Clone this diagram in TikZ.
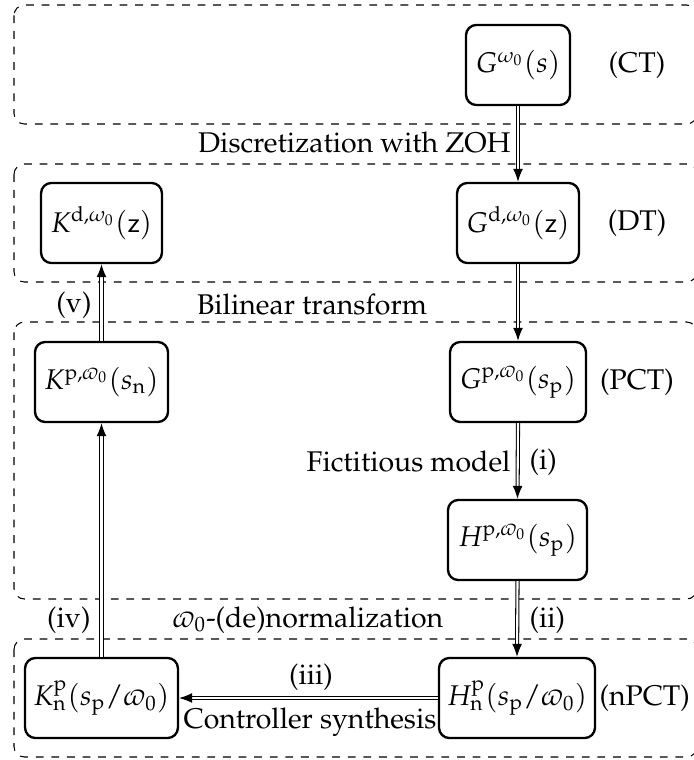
\documentclass[tikz,border=0pt]{standalone}
\usepackage[T1]{fontenc}
\usepackage{mathpazo}
\usetikzlibrary{arrows.meta}
\tikzset{
  region/.style={draw, dashed, line width=0.4pt, rounded corners=4pt},
  blk/.style={draw, line width=0.9pt, rounded corners=4pt, minimum height=30.8pt, inner sep=0pt, minimum width=#1},
  conn/.style={double, double distance=0.8pt, line width=0.4pt, -{Latex[length=5pt,width=3.8pt]}},
  lbl/.style={inner sep=0pt},
  every node/.style={font=\fontsize{10.95}{13.6}\selectfont}
}
\begin{document}
\begin{tikzpicture}[x=0.3846pt,y=-0.3846pt]
\useasboundingbox (0,0) rectangle (693,760);
% regions
\draw[region] (14,5) rectangle (697,124);
\draw[region] (14,164) rectangle (697,282);
\draw[region] (14,322) rectangle (697,599);
\draw[region] (14,639) rectangle (697,757);
% blocks
\node[blk=40pt] (G) at (518,65) {$G^{\omega_0}(s)$};
\node[blk=46.9pt] (Gd) at (518,223) {$G^{\mathrm{d},\omega_0}(\mathsf{z})$};
\node[blk=46.5pt] (Kd) at (101.5,223) {$K^{\mathrm{d},\omega_0}(\mathsf{z})$};
\node[blk=51.2pt] (Kp) at (101.5,382) {$K^{\mathrm{p},\varpi_0}(s_{\mathrm{n}})$};
\node[blk=52.3pt] (Gp) at (518,382) {$G^{\mathrm{p},\varpi_0}(s_{\mathrm{p}})$};
\node[blk=53.5pt] (Hp) at (517.5,540) {$H^{\mathrm{p},\varpi_0}(s_{\mathrm{p}})$};
\node[blk=58.8pt] (Kn) at (101.5,698) {$K^{\mathrm{p}}_{\mathrm{n}}(s_{\mathrm{p}}/\varpi_0)$};
\node[blk=60pt] (Hn) at (517,698) {$H^{\mathrm{p}}_{\mathrm{n}}(s_{\mathrm{p}}/\varpi_0)$};
% domain labels
\node[lbl] (ct) at (637,65) {(CT)};
\node[lbl] (dt) at (637,223) {(DT)};
\node[lbl] (pct) at (637,382) {(PCT)};
\node[lbl, anchor=west] (npct) at (599,698) {(nPCT)};
% connectors
\draw[conn] (G.south) -- (Gd.north);
\draw[conn] (Gd.south) -- (Gp.north);
\draw[conn] (Gp.south) -- (Hp.north);
\draw[conn] (Hp.south) -- (Hn.north);
\draw[conn] (Hn.west) -- (Kn.east);
\draw[conn] (Kn.north) -- (Kp.south);
\draw[conn] (Kp.north) -- (Kd.south);
% transformation labels
\node[lbl, anchor=east] (disc) at (511,143) {Discretization with ZOH};
\node[lbl] (v) at (74,305) {(v)};
\node[lbl] (bil) at (312,305) {Bilinear transform};
\node[lbl, anchor=east] (fict) at (511,462) {Fictitious model};
\node[lbl, anchor=west] (i) at (529,462) {(i)};
\node[lbl, anchor=west] (ii) at (529,620) {(ii)};
\node[lbl, anchor=east] (iv) at (91,620) {(iv)};
\node[lbl] (norm) at (308,620) {$\varpi_0$-(de)normalization};
\node[lbl] (iii) at (311,677) {(iii)};
\node[lbl] (synth) at (310,722) {Controller synthesis};
\end{tikzpicture}
\end{document}
